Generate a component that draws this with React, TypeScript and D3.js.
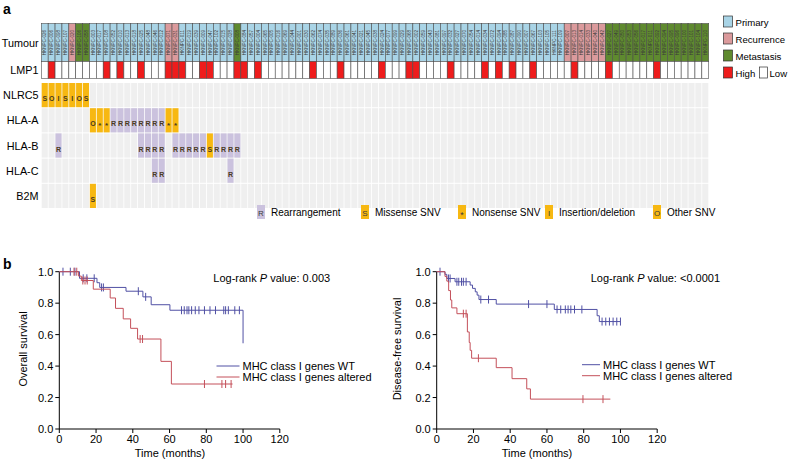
import React from 'react';
import * as d3 from 'd3';

const FONT = 'Liberation Sans, Arial, Helvetica, sans-serif';

// ---------- Panel a data ----------
const sampleIds = [
  'HKNPC-026','HKNPC-006','HKNPC-098','HKNPC-107','HKNPC-020','HKNPC-106','HKNPC-058','HKNPC-003','HKNPC-017','HKNPC-108',
  'HKNPC-052','HKNPC-010','HKNPC-013','HKNPC-018','HKNPC-025','HKNPC-048','HKNPC-046','HKNPC-012','HKNPC-071','HKNPC-031',
  'HKNPC-011','HKNPC-019','HKNPC-039','HKNPC-009','HKNPC-047','HKNPC-102','HKNPC-015','HKNPC-028','HKNPC-008','HKNPC-084',
  'HKNPC-057','HKNPC-004','HKNPC-065','HKNPC-005','HKNPC-016','HKNPC-069','HKNPC-044','HKNPC-001','HKNPC-030','HKNPC-062',
  'HKNPC-074','HKNPC-035','HKNPC-089','HKNPC-036','HKNPC-061','HKNPC-041','HKNPC-021','HKNPC-045','HKNPC-038','HKNPC-024',
  'HKNPC-077','HKNPC-099','HKNPC-029','HKNPC-068','HKNPC-002','HKNPC-059','HKNPC-043','HKNPC-081','HKNPC-097','HKNPC-032',
  'HKNPC-027','HKNPC-070','HKNPC-054','HKNPC-014','HKNPC-034','HKNPC-072','HKNPC-094','HKNPC-085','HKNPC-087','HKNPC-090',
  'HKNPC-007','HKNPC-067','HKNPC-103','HKNPC-105','HKNPC-111','HKNPC-109','HKNPC-007','HKNPC-013','HKNPC-014','HKNPC-033',
  'HKNPC-040','HKNPC-042','HKNPC-027','HKNPC-049','HKNPC-050','HKNPC-053','HKNPC-056','HKNPC-017','HKNPC-011','HKNPC-092',
  'HKNPC-094','HKNPC-095','HKNPC-096','HKNPC-100','HKNPC-101','HKNPC-104','HKNPC-110'
];

// P = primary, R = recurrence, M = metastasis (one letter per sample)
const tumourTypes = 'PPPP R MM PPPPPPPPPPP RR PPPPPPPP M PPPPPPPPPP PPPPPPPPPP PPPPPPPPPP PPPPPPPPPP PPPPPPP RRRRRR MMMMMMMMMMMMMMM'
  .replace(/ /g, '').split('');

// sample indices with LMP1 high expression
const lmp1High = [1, 9, 11, 14, 18, 19, 20, 23, 24, 28, 29, 31, 39, 43, 49, 53, 54, 59, 64, 66, 68, 71, 77, 82, 89];

const genes = ['NLRC5', 'HLA-A', 'HLA-B', 'HLA-C', 'B2M'];

// [sample index, alteration code]
const nlrc5Alt = [[0, 'S'], [1, 'O'], [2, 'I'], [3, 'S'], [4, 'I'], [5, 'O'], [6, 'S']];
const hlaAAlt = [[7, 'O'], [8, '*'], [9, '*'], [10, 'R'], [11, 'R'], [12, 'R'], [13, 'R'], [14, 'R'], [15, 'R'], [16, 'R'], [17, 'R'], [18, '*'], [19, '*']];
const hlaBAlt = [[2, 'R'], [14, 'R'], [15, 'R'], [16, 'R'], [17, 'R'], [19, 'R'], [20, 'R'], [21, 'R'], [22, 'R'], [23, 'R'], [24, 'S'], [25, 'R'], [26, 'R'], [27, 'R'], [28, 'R']];
const hlaCAlt = [[16, 'R'], [17, 'R'], [27, 'R']];
const b2mAlt = [[7, 'S']];
const geneAlts = [nlrc5Alt, hlaAAlt, hlaBAlt, hlaCAlt, b2mAlt];

const altCodes = ['R', 'S', '*', 'I', 'O'];
const altLabels = ['Rearrangement', 'Missense SNV', 'Nonsense SNV', 'Insertion/deletion', 'Other SNV'];

const tumourCodes = ['P', 'R', 'M'];
const tumourLabels = ['Primary', 'Recurrence', 'Metastasis'];

// ---------- Panel b data (Kaplan-Meier) ----------
// steps: [time (months), survival after drop]
const osWtSteps = [[11, 0.958], [20.5, 0.93], [22, 0.90], [36.3, 0.876], [45.5, 0.84], [50, 0.79], [60.2, 0.755], [100, 0.545]];
const osWtCensor = [2, 6, 8.5, 13, 15, 19, 23, 24, 43, 47, 66.5, 68, 69.5, 70.5, 72, 74, 76, 79, 82, 85, 89.5, 90.5, 92, 95.5, 98];
const osWtEnd = 100;
const osAltSteps = [[10.5, 0.972], [12, 0.944], [18.5, 0.889], [27.7, 0.833], [30.6, 0.767], [34.8, 0.70], [38.8, 0.64], [42.6, 0.572], [55.3, 0.43], [61, 0.286]];
const osAltCensor = [8, 9.5, 12.8, 14, 15.2, 44, 45.3, 79, 88.5, 90.5, 93.5];
const osAltEnd = 94.3;

const dfsWtSteps = [[4.5, 0.983], [5.5, 0.957], [10, 0.936], [18.2, 0.915], [19.5, 0.894], [21, 0.872], [22, 0.851], [23, 0.823], [32.4, 0.794], [64, 0.76], [87.3, 0.72], [88.5, 0.683]];
const dfsWtCensor = [1.8, 6.4, 7.3, 11, 12, 13.5, 14.5, 16, 24, 28.2, 50, 60, 65.5, 67.5, 70, 71.5, 73, 75, 79, 90, 92, 94, 96, 98, 100];
const dfsWtEnd = 100;
const dfsAltSteps = [[4.5, 0.97], [5.5, 0.94], [6.5, 0.88], [7.5, 0.82], [8.2, 0.77], [11, 0.733], [16.7, 0.617], [17.7, 0.55], [18.2, 0.5], [19, 0.45], [32.4, 0.39], [41, 0.32], [49, 0.255], [51, 0.19]];
const dfsAltCensor = [14.5, 16, 22.7, 79.6, 90.5];
const dfsAltEnd = 94.5;

const seriesNames = ['MHC class I genes WT', 'MHC class I genes altered'];
const xTicks = [0, 20, 40, 60, 80, 100, 120];
const yTicks = [0, 0.2, 0.4, 0.6, 0.8, 1.0];

// ---------- styles ----------
const tumourColor: Record<string, string> = { P: '#a9d4e6', R: '#db9a9c', M: '#5f8a2f' };
const altColor: Record<string, string> = { R: '#cbc2de', S: '#f7b812', '*': '#f7b812', I: '#f7b812', O: '#f7b812' };
const WT_COLOR = '#5050a4';
const ALT_COLOR = '#c4505a';

function Oncoprint() {
  const n = sampleIds.length;
  const x = d3.scaleBand<number>().domain(d3.range(n)).range([41.3, 708.7]).paddingInner(0);
  const bw = x.bandwidth();
  const y = d3.scaleBand<string>().domain(genes).range([83, 208]).paddingInner(0.04);
  const bh = y.bandwidth();
  const tumTop = 23.5, tumH = 38, lmpTop = 61.5, lmpH = 17;
  const legendBoxX = [257, 361, 458, 545, 653];
  return (
    <g fontFamily={FONT}>
      <text x={3} y={14} fontSize={14} fontWeight="bold">a</text>
      {/* Tumour row */}
      {sampleIds.map((id, i) => (
        <g key={'t' + i}>
          <rect x={x(i)} y={tumTop} width={bw} height={tumH} fill={tumourColor[tumourTypes[i]]} stroke="#4d4d4d" strokeWidth={0.6} />
          <text transform={`translate(${x(i)! + bw / 2 + 1.7},${tumTop + tumH / 2}) rotate(-90)`} fontSize={4.6} textAnchor="middle" fill="#3a3a3a">{id}</text>
          <rect x={x(i)} y={lmpTop} width={bw} height={lmpH} fill={lmp1High.includes(i) ? '#ee1c1c' : '#ffffff'} stroke="#4d4d4d" strokeWidth={0.6} />
        </g>
      ))}
      <text x={38.5} y={tumTop + tumH / 2 + 4} fontSize={10.8} textAnchor="end">Tumour</text>
      <text x={38.5} y={lmpTop + lmpH / 2 + 4} fontSize={10.8} textAnchor="end">LMP1</text>
      {/* gene rows */}
      {genes.map((g, gi) => (
        <g key={g}>
          {sampleIds.map((_, i) => (
            <rect key={i} x={x(i)! + 0.4} y={y(g)} width={bw - 0.8} height={bh} fill="#efefef" />
          ))}
          {geneAlts[gi].map(([col, code]) => (
            <g key={'a' + col}>
              <rect x={x(col as number)! + 0.4} y={y(g)} width={bw - 0.8} height={bh} fill={altColor[code as string]} />
              <text x={x(col as number)! + bw / 2} y={y(g)! + bh - (code === '*' ? 4 : 6)} fontSize={code === '*' ? 8 : 7} fontWeight="bold" textAnchor="middle" fill="#4a3b22">{code}</text>
            </g>
          ))}
          <text x={38.5} y={y(g)! + bh / 2 + 4} fontSize={10.8} textAnchor="end">{g}</text>
        </g>
      ))}
      {/* right legend */}
      {tumourCodes.map((c, i) => (
        <g key={c}>
          <rect x={723.5} y={16 + i * 17} width={9} height={11} fill={tumourColor[c]} stroke="#333" strokeWidth={0.7} />
          <text x={735.5} y={25.5 + i * 17} fontSize={9.6}>{tumourLabels[i]}</text>
        </g>
      ))}
      <rect x={723.5} y={67} width={9} height={11} fill="#ee1c1c" stroke="#333" strokeWidth={0.7} />
      <text x={735.5} y={76.5} fontSize={9.6}>High</text>
      <rect x={759.5} y={67} width={8} height={11} fill="#fff" stroke="#333" strokeWidth={0.7} />
      <text x={769.5} y={76.5} fontSize={9.6}>Low</text>
      {/* alteration legend */}
      {altCodes.map((c, i) => (
        <g key={c}>
          <rect x={legendBoxX[i]} y={205} width={8} height={14} fill={altColor[c]} />
          <text x={legendBoxX[i] + 4} y={c === '*' ? 218 : 215.5} fontSize={c === '*' ? 9 : 8} textAnchor="middle" fill="#3a3a3a">{c}</text>
          <text x={legendBoxX[i] + 14} y={216} fontSize={10}>{altLabels[i]}</text>
        </g>
      ))}
    </g>
  );
}

interface KMProps {
  left: number;
  yLabel: string;
  pText: string;
  wtSteps: number[][]; wtCensor: number[]; wtEnd: number;
  altSteps: number[][]; altCensor: number[]; altEnd: number;
  legendX: number; legendY: number; legendLen: number; timeLabelX: number; yLabelX: number;
}

function KMPanel(p: KMProps) {
  const x = d3.scaleLinear().domain([0, 120]).range([p.left, p.left + 220.5]);
  const y = d3.scaleLinear().domain([0, 1]).range([429, 271.7]);
  const line = d3.line<number[]>().x(d => x(d[0])).y(d => y(d[1])).curve(d3.curveStepAfter);
  const survAt = (steps: number[][], t: number) => {
    let s = 1;
    for (const [st, sv] of steps) if (st <= t) s = sv;
    return s;
  };
  const curve = (steps: number[][], end: number, censor: number[], color: string, key: string) => {
    const pts = [[0, 1], ...steps, [end, steps[steps.length - 1][1]]];
    return (
      <g key={key}>
        <path d={line(pts) || ''} fill="none" stroke={color} strokeWidth={1} />
        {censor.map((t, i) => (
          <line key={i} x1={x(t)} x2={x(t)} y1={y(survAt(steps, t)) - 4} y2={y(survAt(steps, t)) + 4} stroke={color} strokeWidth={1} />
        ))}
      </g>
    );
  };
  return (
    <g fontFamily={FONT}>
      {/* axes */}
      <line x1={x(0)} x2={x(120)} y1={y(0)} y2={y(0)} stroke="#000" />
      <line x1={x(0)} x2={x(0)} y1={y(0)} y2={y(1)} stroke="#000" />
      {xTicks.map(t => (
        <g key={'x' + t}>
          <line x1={x(t)} x2={x(t)} y1={y(0)} y2={y(0) + 4} stroke="#000" />
          <text x={x(t)} y={443} fontSize={11} textAnchor="middle">{t}</text>
        </g>
      ))}
      {yTicks.map(t => (
        <g key={'y' + t}>
          <line x1={x(0) - 4} x2={x(0)} y1={y(t)} y2={y(t)} stroke="#000" />
          <text x={x(0) - 6} y={y(t) + 4} fontSize={11} textAnchor="end">{t.toFixed(1)}</text>
        </g>
      ))}
      <text x={p.timeLabelX} y={457} fontSize={11} textAnchor="middle">Time (months)</text>
      <text transform={`translate(${p.yLabelX},349) rotate(-90)`} fontSize={11} textAnchor="middle">{p.yLabel}</text>
      <text x={x(0) + 154} y={281.5} fontSize={11}>
        Log-rank <tspan fontStyle="italic">P</tspan> value: {p.pText}
      </text>
      {curve(p.wtSteps, p.wtEnd, p.wtCensor, WT_COLOR, 'wt')}
      {curve(p.altSteps, p.altEnd, p.altCensor, ALT_COLOR, 'alt')}
      {/* legend */}
      {[WT_COLOR, ALT_COLOR].map((c, i) => (
        <g key={'l' + i}>
          <line x1={p.legendX} x2={p.legendX + p.legendLen} y1={p.legendY + i * 11} y2={p.legendY + i * 11} stroke={c} strokeWidth={1} />
          <text x={p.legendX + p.legendLen + 3} y={p.legendY + i * 11 + 4} fontSize={11}>{seriesNames[i]}</text>
        </g>
      ))}
    </g>
  );
}

export default function App() {
  return (
    <svg width={788} height={461} style={{ position: 'absolute', left: 0, top: 0, background: '#fff' }}>
      <rect width={788} height={461} fill="#fff" />
      <Oncoprint />
      <text x={3} y={269} fontSize={14} fontWeight="bold" fontFamily={FONT}>b</text>
      <KMPanel left={59.3} yLabel="Overall survival" pText="0.003"
        wtSteps={osWtSteps} wtCensor={osWtCensor} wtEnd={osWtEnd}
        altSteps={osAltSteps} altCensor={osAltCensor} altEnd={osAltEnd}
        legendX={216.5} legendY={366} legendLen={23} timeLabelX={170} yLabelX={27} />
      <KMPanel left={436.7} yLabel="Disease-free survival" pText="<0.0001"
        wtSteps={dfsWtSteps} wtCensor={dfsWtCensor} wtEnd={dfsWtEnd}
        altSteps={dfsAltSteps} altCensor={dfsAltCensor} altEnd={dfsAltEnd}
        legendX={582} legendY={364.7} legendLen={18} timeLabelX={537} yLabelX={401} />
    </svg>
  );
}
